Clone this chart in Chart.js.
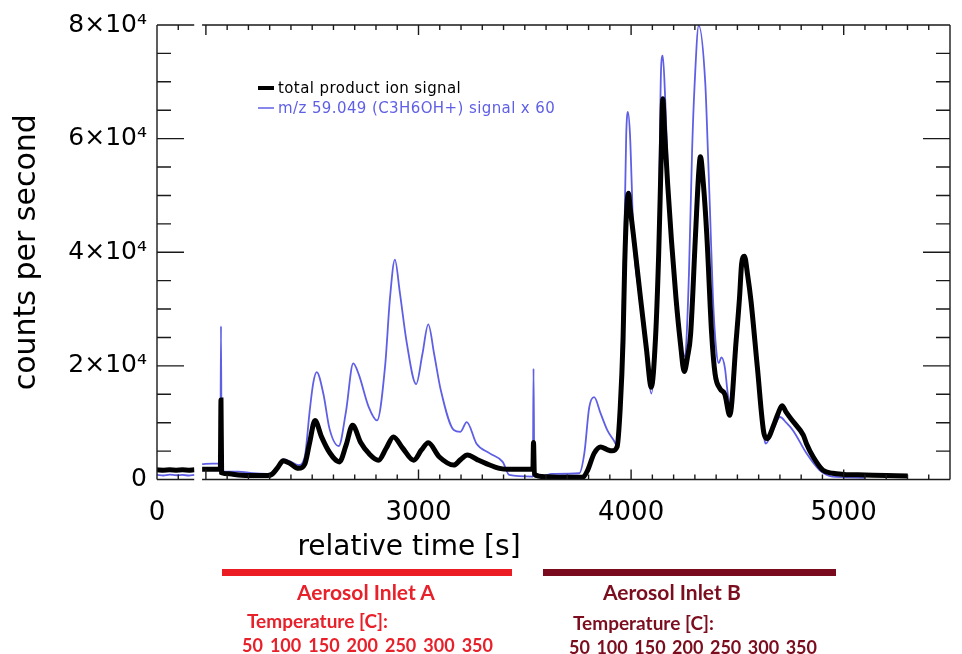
<!DOCTYPE html>
<html>
<head>
<meta charset="utf-8">
<script src="https://cdn.jsdelivr.net/npm/chart.js@4.4.1/dist/chart.umd.min.js"></script>
<style>
  html, body { margin: 0; padding: 0; background: #fff; overflow: hidden; }
  #wrap { position: relative; width: 968px; height: 654px; }
  #chartBox { position: absolute; left: 0; top: 0; width: 968px; height: 654px; }
  .bar { position: absolute; height: 7px; }
  .note { position: absolute; font-family: Lato, "Liberation Sans", sans-serif; font-weight: 700; white-space: nowrap; line-height: 1; }
  .temps { display: flex; justify-content: space-between; }
  .inletA { color: #e8202a; }
  .inletB { color: #7b0d1e; }
</style>
</head>
<body>
<div id="wrap">
  <div id="chartBox"><canvas id="c"></canvas></div>

  <div class="bar" style="left:222px; top:569px; width:290px; background:#ec1c24"></div>
  <div class="bar" style="left:543px; top:569px; width:293px; background:#7a0a1e"></div>

  <div class="note inletA" style="left:297px; top:581px; font-size:21px">Aerosol Inlet A</div>
  <div class="note inletB" style="left:603px; top:581px; font-size:21px">Aerosol Inlet B</div>
  <div class="note inletA" style="left:247px; top:611px; font-size:19px">Temperature [C]:</div>
  <div class="note inletB" style="left:573px; top:613px; font-size:19px">Temperature [C]:</div>
  <div class="note inletA temps" id="tempsA" style="left:242px; top:636px; width:251px; font-size:18px"></div>
  <div class="note inletB temps" id="tempsB" style="left:569px; top:638px; width:248px; font-size:18px"></div>
</div>

<script>
// left piece of the broken time axis (s)
const leftTime = [0, 30, 60, 90, 120, 150, 175];
const leftTotal = [1700, 1650, 1700, 1650, 1700, 1650, 1700];
const leftAcetone = [800, 700, 850, 750, 800, 700, 800];

// right piece of the time axis (s)
const totalTime = [1982, 2030, 2068, 2071, 2074, 2110, 2152, 2220, 2290, 2310, 2336, 2364, 2396, 2436,
  2465, 2488, 2513, 2544, 2581, 2628, 2659, 2690, 2728, 2766, 2812, 2848, 2882, 2926, 2977, 3014,
  3046, 3097, 3166, 3198, 3230, 3276, 3319, 3381, 3427, 3538, 3541, 3545, 3594, 3673, 3773, 3796,
  3826, 3857, 3885, 3911, 3934, 3949, 3962, 3970, 3980, 3988, 3995, 4011, 4041, 4072, 4095, 4115,
  4130, 4141, 4149, 4158, 4172, 4190, 4211, 4232, 4250, 4265, 4280, 4303, 4318, 4326, 4340, 4356,
  4379, 4395, 4418, 4441, 4464, 4494, 4510, 4520, 4533, 4548, 4564, 4594, 4625, 4640, 4670, 4690,
  4710, 4730, 4764, 4810, 4825, 4856, 4902, 4948, 5000, 5101, 5200, 5301];
const totalSignal = [1800, 1800, 1800, 14000, 1200, 1000, 800, 700, 700, 900, 2000, 3300, 2800, 1960,
  2700, 6500, 10400, 7500, 4800, 3100, 6000, 9540, 6500, 4600, 3400, 5500, 7500, 5500, 3400, 5200,
  6450, 4000, 2540, 3500, 4300, 3500, 2800, 1960, 1800, 1800, 6500, 900, 500, 400, 400, 1660,
  4600, 5740, 5300, 5040, 5740, 12700, 24400, 38000, 48000, 50400, 48000, 43000, 33000, 23000, 16250, 25000,
  40000, 56000, 67000, 61000, 52000, 42000, 32000, 24000, 19000, 21500, 25600, 43100, 54000, 56800, 52000, 43100,
  25600, 18600, 16000, 15000, 11300, 24400, 32000, 38000, 39300, 36000, 31400, 19700, 8100, 7200, 9500, 11500,
  13000, 11800, 10100, 7800, 6300, 4000, 1660, 1100, 900, 800, 700, 600];

const acetoneTime = [1982, 2030, 2068, 2071, 2074, 2110, 2152, 2220, 2290, 2310, 2336, 2364, 2396, 2436,
  2465, 2488, 2505, 2521, 2553, 2581, 2625, 2659, 2693, 2719, 2766, 2805, 2843, 2866, 2889, 2912,
  2945, 2989, 3018, 3046, 3074, 3105, 3166, 3197, 3227, 3273, 3335, 3396, 3427, 3538, 3541, 3545,
  3594, 3627, 3756, 3780, 3803, 3826, 3857, 3888, 3918, 3934, 3949, 3968, 3977, 3985, 3995, 4003,
  4011, 4041, 4072, 4095, 4115, 4130, 4141, 4149, 4161, 4172, 4190, 4211, 4241, 4255, 4272, 4287,
  4299, 4318, 4349, 4361, 4372, 4385, 4400, 4412, 4425, 4441, 4455, 4464, 4494, 4510, 4520, 4533,
  4548, 4564, 4594, 4625, 4633, 4665, 4700, 4730, 4764, 4825, 4886, 4948, 5000, 5101];
const acetoneSignal = [2700, 2800, 2800, 27000, 1400, 1400, 1400, 1100, 1000, 1200, 2200, 3540, 3200, 2540,
  4000, 12000, 17000, 18900, 15000, 9000, 5900, 12000, 20450, 18500, 12750, 10400, 20000, 32000, 38700, 33000,
  24000, 16800, 22000, 27300, 22000, 15700, 8700, 8400, 10100, 6300, 4600, 3100, 800, 500, 19500, 500,
  700, 1000, 1100, 4600, 12700, 14500, 11600, 8700, 6900, 6000, 14000, 41900, 60600, 64700, 60600, 51900,
  42500, 32000, 22000, 15100, 24500, 45000, 72300, 74600, 66400, 55000, 42000, 32000, 21500, 22000, 36100, 58000,
  69700, 79900, 69700, 58000, 46300, 32000, 23000, 20500, 21500, 19700, 15000, 13300, 24000, 31000, 37000, 38500,
  35500, 31000, 19000, 7500, 6300, 8500, 11000, 10000, 8500, 4600, 1660, 500, 400, 300];

const seriesNames = ["total product ion signal", "m/z 59.049 (C3H6OH+) signal x 60"];
const seriesColors = ["#000000", "#5f5fe6"];

const yMajorTicks = [0, 20000, 40000, 60000, 80000];
const yTickLabels = ["0", "2×10⁴", "4×10⁴", "6×10⁴", "8×10⁴"];
const xLabelValues = [0, 3000, 4000, 5000];
const xTickLabels = ["0", "3000", "4000", "5000"];
const temperatures = ["50", "100", "150", "200", "250", "300", "350"];

["tempsA", "tempsB"].forEach((id) => {
  const row = document.getElementById(id);
  temperatures.forEach((t) => {
    const s = document.createElement("span");
    s.textContent = t;
    row.appendChild(s);
  });
});

const pts = (xs, ys) => xs.map((x, i) => ({ x: x, y: ys[i] }));

// tick positions every 100 s / 5000 counts (minor marks on the frame)
const range = (a, b, step) => {
  const out = [];
  for (let v = a; v <= b; v += step) out.push({ value: v });
  return out;
};

const framePlugin = {
  id: "frame",
  afterDraw(chart) {
    const { ctx, chartArea: a, scales } = chart;
    const xa = scales.xa, xb = scales.xb, y = scales.y;
    const breakL = xa.getPixelForValue(leftTime[leftTime.length - 1]);

    ctx.save();
    ctx.strokeStyle = "#1a1a1a";
    ctx.lineWidth = 1.4;
    ctx.beginPath();
    ctx.moveTo(a.left, a.top); ctx.lineTo(a.left, a.bottom);
    ctx.moveTo(a.right, a.top); ctx.lineTo(a.right, a.bottom);
    [a.top, a.bottom].forEach((yy) => {
      ctx.moveTo(a.left, yy); ctx.lineTo(breakL, yy);
      ctx.moveTo(xb.left, yy); ctx.lineTo(a.right, yy);
    });
    [[xa, breakL], [xb, a.right]].forEach(([sc, lim]) => {
      sc.ticks.forEach((t) => {
        const px = sc.getPixelForValue(t.value);
        if (px > lim + 0.5 || px < sc.left - 0.5) return;
        const len = t.value % 1000 === 0 ? 10 : 5;
        ctx.moveTo(px, a.top); ctx.lineTo(px, a.top + len);
        ctx.moveTo(px, a.bottom); ctx.lineTo(px, a.bottom - len);
      });
    });
    y.ticks.forEach((t) => {
      const py = y.getPixelForValue(t.value);
      const len = t.value % 20000 === 0 ? 27 : 14;
      ctx.moveTo(a.left, py); ctx.lineTo(a.left + len, py);
      ctx.moveTo(a.right, py); ctx.lineTo(a.right - len, py);
    });
    ctx.stroke();

    // legend inside the plot
    ctx.font = '15px "DejaVu Sans"';
    ctx.letterSpacing = "0.4px";
    ctx.textBaseline = "middle";
    const lx = a.left + 101, ly = a.top + 63;
    [0, 1].forEach((i) => {
      const yy = ly + i * 20;
      ctx.beginPath();
      ctx.strokeStyle = seriesColors[i];
      ctx.lineWidth = i === 0 ? 4 : 1.5;
      ctx.moveTo(lx, yy); ctx.lineTo(lx + 16, yy);
      ctx.stroke();
      ctx.fillStyle = seriesColors[i];
      ctx.fillText(seriesNames[i], lx + 20, yy + 1);
    });
    ctx.letterSpacing = "0px";

    // x axis title
    ctx.fillStyle = "#000";
    ctx.font = '28px "DejaVu Sans"';
    ctx.textAlign = "center";
    ctx.textBaseline = "alphabetic";
    ctx.fillText("relative time [s]", 409, 555);
    ctx.restore();
  },
};

const lineStyle = (i) => ({
  borderColor: seriesColors[i],
  borderWidth: i === 0 ? 5 : 1.8,
  pointRadius: 0,
  cubicInterpolationMode: "monotone",
  order: i === 0 ? 1 : 2,
});

const tickFont = (size) => ({ family: "DejaVu Sans", size: size });

new Chart(document.getElementById("c"), {
  type: "line",
  data: {
    datasets: [
      { label: seriesNames[0], data: pts(totalTime, totalSignal), xAxisID: "xb", ...lineStyle(0) },
      { label: seriesNames[1], data: pts(acetoneTime, acetoneSignal), xAxisID: "xb", ...lineStyle(1) },
      { label: seriesNames[0], data: pts(leftTime, leftTotal), xAxisID: "xa", ...lineStyle(0) },
      { label: seriesNames[1], data: pts(leftTime, leftAcetone), xAxisID: "xa", ...lineStyle(1) },
    ],
  },
  options: {
    responsive: true,
    maintainAspectRatio: false,
    animation: false,
    layout: { padding: { left: 0, top: 23, right: 1, bottom: 124.5 } },
    plugins: { legend: { display: false }, tooltip: { enabled: false } },
    scales: {
      xa: {
        type: "linear", position: "bottom", stack: "x", stackWeight: 212,
        min: 0, max: 212,
        afterBuildTicks: (s) => { s.ticks = range(0, 200, 100); },
        afterFit: (s) => { s.height = 50; },
        grid: { display: false, drawTicks: false },
        border: { display: false },
        ticks: {
          autoSkip: false, maxRotation: 0, padding: 18, color: "#000", font: tickFont(26),
          callback: (v) => { const k = xLabelValues.indexOf(v); return k >= 0 ? xTickLabels[k] : ""; },
        },
      },
      xb: {
        type: "linear", position: "bottom", stack: "x", stackWeight: 3518,
        min: 1982, max: 5500,
        afterBuildTicks: (s) => { s.ticks = range(2000, 5500, 100); },
        afterFit: (s) => { s.height = 50; },
        grid: { display: false, drawTicks: false },
        border: { display: false },
        ticks: {
          autoSkip: false, maxRotation: 0, padding: 18, color: "#000", font: tickFont(26),
          callback: (v) => { const k = xLabelValues.indexOf(v); return k >= 0 ? xTickLabels[k] : ""; },
        },
      },
      y: {
        type: "linear", position: "left",
        min: 0, max: 80000,
        afterBuildTicks: (s) => { s.ticks = range(0, 80000, 5000); },
        afterFit: (s) => { s.width = 157; },
        grid: { display: false, drawTicks: false },
        border: { display: false },
        ticks: {
          autoSkip: false, padding: 10, color: "#000", font: tickFont(25),
          callback: (v) => { const k = yMajorTicks.indexOf(v); return k >= 0 ? yTickLabels[k] : ""; },
        },
        title: {
          display: true, text: "counts per second", color: "#000",
          font: tickFont(30), padding: { top: 9, bottom: 0 },
        },
      },
    },
  },
  plugins: [framePlugin],
});
</script>
</body>
</html>
